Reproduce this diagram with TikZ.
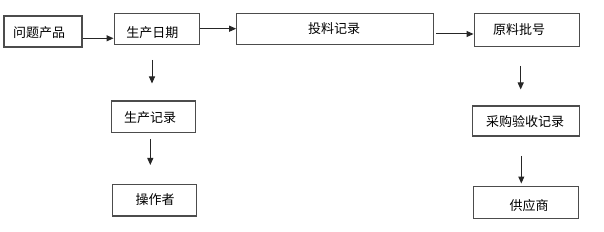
\documentclass[tikz,border=0pt]{standalone}
\usepackage{fontspec}
\newfontfamily\cjk{Noto Sans CJK SC}
\usetikzlibrary{arrows.meta}
\begin{document}
\begin{tikzpicture}[x=1pt,y=-1pt,
  box/.style={draw=black!70,line width=1.3pt,rectangle,inner sep=0pt},
  lbl/.style={font=\cjk\fontsize{13}{15}\selectfont,inner sep=0pt},
  arr/.style={draw=black!85,line width=1pt,-{Triangle[length=7pt,width=6pt]}}]
\useasboundingbox[fill=white] (0,0) rectangle (604,232);
% boxes
\node[box,minimum width=78pt,minimum height=31pt] (b1) at (43,31.5) {};
\node[box,minimum width=85pt,minimum height=31pt] (b2) at (156.7,28.8) {};
\node[box,minimum width=197pt,minimum height=31pt] (b3) at (335.3,28.8) {};
\node[box,minimum width=105pt,minimum height=33pt] (b4) at (526.7,30) {};
\node[box,minimum width=84pt,minimum height=31.5pt] (b5) at (153.8,116.8) {};
\node[box,minimum width=84pt,minimum height=31.5pt] (b6) at (154.8,200.2) {};
\node[box,minimum width=107pt,minimum height=30pt] (b7) at (525.8,121) {};
\node[box,minimum width=105pt,minimum height=31.5pt] (b8) at (526.3,202.5) {};
% texts
\node[lbl] (t1) at (39,32.5) {问题产品};
\node[lbl] (t2) at (152.3,32.5) {生产日期};
\node[lbl] (t3) at (334,28.3) {投料记录};
\node[lbl] (t4) at (519,29.3) {原料批号};
\node[lbl] (t5) at (150,117.3) {生产记录};
\node[lbl] (t6) at (155,200) {操作者};
\node[lbl] (t7) at (525,121.7) {采购验收记录};
\node[lbl] (t8) at (529,205.7) {供应商};
% connector end points
\coordinate (a4s) at (152,60);   \coordinate (a4e) at (152,83.5);
\coordinate (a5s) at (150.3,139); \coordinate (a5e) at (150.3,165);
\coordinate (a6s) at (520.7,66);  \coordinate (a6e) at (520.7,89.5);
\coordinate (a7s) at (521.3,156); \coordinate (a7e) at (521.3,183.5);
\coordinate (a3s) at (436,34);
% connectors
\draw[arr] (b1.east |- 0,38.3) -- (b2.west |- 0,38.3);
\draw[arr] (b2.east |- 0,28.7) -- (b3.west |- 0,28.7);
\draw[arr] (a3s) -- (b4.west |- a3s);
\draw[arr] (a4s) -- (a4e);
\draw[arr] (a5s) -- (a5e);
\draw[arr] (a6s) -- (a6e);
\draw[arr] (a7s) -- (a7e);
\end{tikzpicture}
\end{document}
